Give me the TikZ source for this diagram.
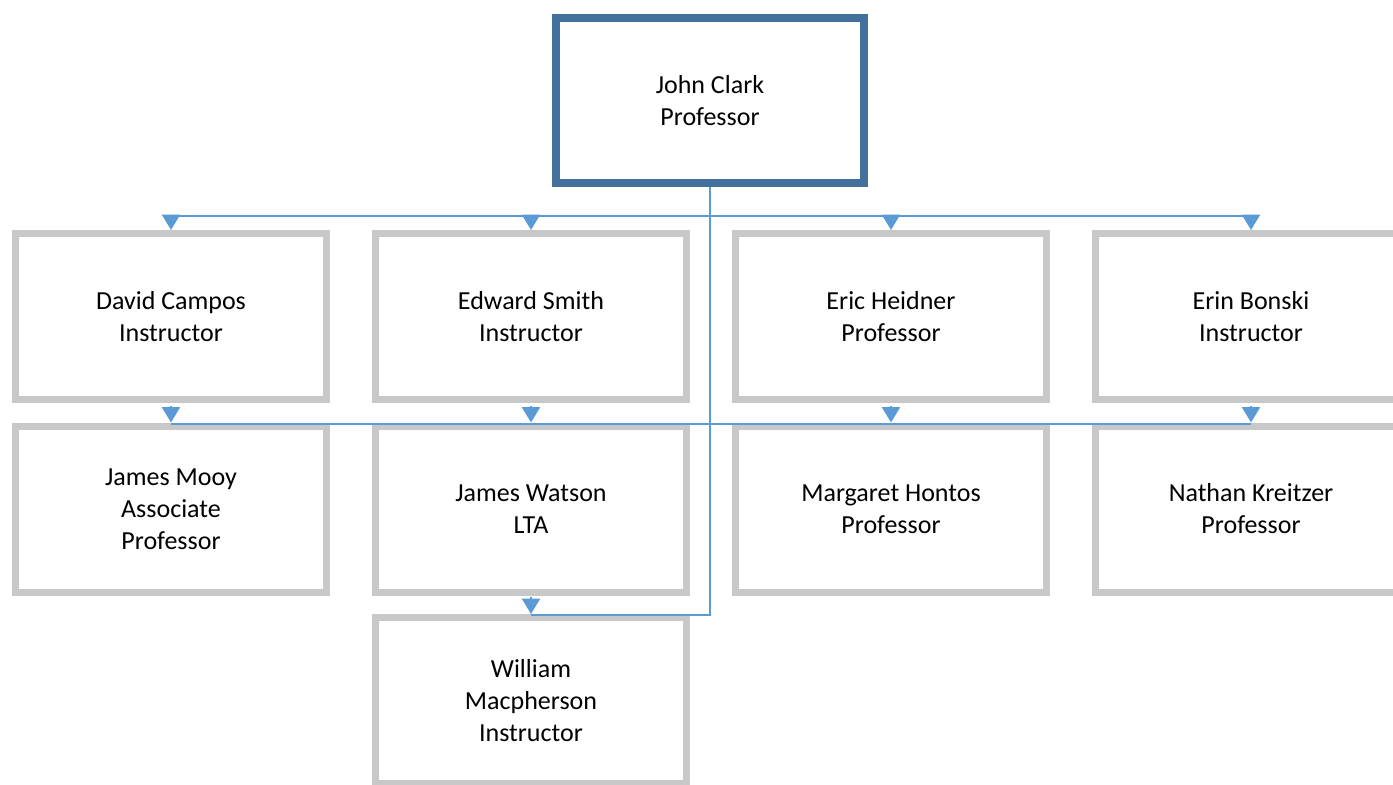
\documentclass[tikz,border=0pt]{standalone}
\usepackage{fontspec}
\setmainfont{Carlito}
\usepackage{tikz}
\usetikzlibrary{arrows.meta}
\usetikzlibrary{shadows}
\definecolor{oc-line}{HTML}{5B9BD5}
\definecolor{oc-head}{HTML}{41719C}
\definecolor{oc-box}{HTML}{C8C8C8}
\definecolor{oc-shade}{HTML}{DDE8F3}

\begin{document}
\begin{tikzpicture}[x=0.75pt, y=-0.75pt,
    person/.style={draw=oc-box, line width=5.25pt, fill=white, align=center,
        minimum width=233pt, minimum height=124.5pt, inner sep=0pt,
        font=\fontsize{19.5pt}{24pt}\selectfont,
        drop shadow={shadow xshift=1pt, shadow yshift=-2.5pt, fill=oc-shade, opacity=0.8}},
    chief/.style={person, draw=oc-head, line width=6pt,
        minimum width=231pt, minimum height=123.75pt},
    link/.style={draw=oc-line, line width=1.5pt},
    tip/.style={link, -{Triangle[width=13.5pt, length=11.5pt]}}]

    \clip (0,0) rectangle (1393,785);
    \fill[white] (0,0) rectangle (1393,785);

    % Head of department
    \node[chief] (clark) at (710,100.5) {John Clark\\Professor};

    % First row
    \node[person] (campos)  at (171,316.5)  {David Campos\\Instructor};
    \node[person] (smith)   at (531,316.5)  {Edward Smith\\Instructor};
    \node[person] (heidner) at (891,316.5)  {Eric Heidner\\Professor};
    \node[person] (bonski)  at (1251,316.5) {Erin Bonski\\Instructor};

    % Second row
    \node[person] (mooy)     at (171,509)  {James Mooy\\Associate\\Professor};
    \node[person] (watson)   at (531,509)  {James Watson\\LTA};
    \node[person] (hontos)   at (891,509)  {Margaret Hontos\\Professor};
    \node[person] (kreitzer) at (1251,509) {Nathan Kreitzer\\Professor};

    % Third row
    \node[person] (macpherson) at (531,700.5) {William\\Macpherson\\Instructor};

    % Connectors to the first row
    \foreach \n in {campos, smith, heidner, bonski}
        \draw[tip] (clark.south) |- ([yshift=10.5pt]\n.north) -- (\n.north);

    % Connectors to the second row
    \foreach \n in {mooy, watson, hontos, kreitzer} {
        \draw[link] (clark.south) |- ([yshift=-1pt]\n.north);
        \draw[tip] ([yshift=12.5pt]\n.north) -- (\n.north);
    }

    % Connector to the third row
    \draw[link] (clark.south) |- ([yshift=-1pt]macpherson.north);
    \draw[tip] ([yshift=12.5pt]macpherson.north) -- (macpherson.north);

\end{tikzpicture}
\end{document}
